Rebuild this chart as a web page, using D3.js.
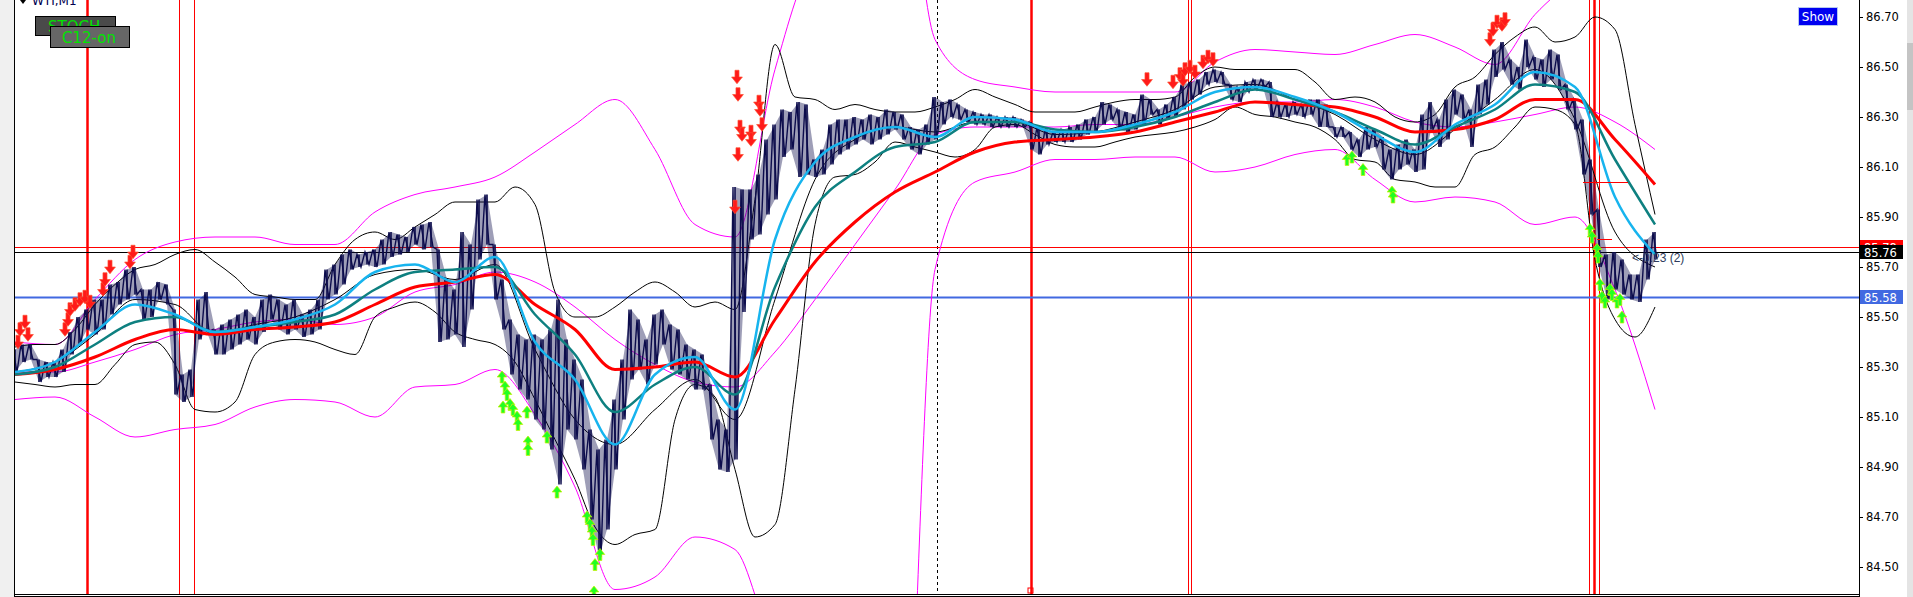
<!DOCTYPE html>
<html>
<head>
<meta charset="utf-8">
<script src="https://cdn.jsdelivr.net/npm/d3@7"></script>
<style>
body{margin:0;background:#fff;overflow:hidden}
svg{display:block}
</style>
</head>
<body>
<svg id="chart"></svg>
<script>
// price samples: one every 4 bars (high / low of the slice)
var priceHigh = [
85.37,85.39,85.39,85.33,85.32,85.32,85.37,85.44,85.50,85.53,
85.57,85.57,85.63,85.64,85.69,85.70,85.61,85.61,85.64,85.63,
85.53,85.27,85.29,85.57,85.60,85.45,85.47,85.49,85.51,85.53,
85.50,85.57,85.59,85.57,85.55,85.57,85.51,85.53,85.57,85.69,
85.71,85.75,85.77,85.75,85.76,85.77,85.81,85.84,85.83,85.82,
85.86,85.87,85.88,85.77,85.65,85.61,85.84,85.79,85.97,85.99,
85.79,85.65,85.49,85.43,85.41,85.43,85.41,85.45,85.57,85.41,
85.33,85.25,85.05,84.97,85.01,85.17,85.33,85.53,85.49,85.41,
85.51,85.53,85.47,85.45,85.39,85.37,85.35,85.23,85.09,85.05,
86.02,86.01,86.01,86.07,86.21,86.27,86.33,86.32,86.36,86.35,
86.13,86.17,86.27,86.29,86.29,86.30,86.29,86.31,86.30,86.33,
86.32,86.31,86.26,86.25,86.27,86.38,86.36,86.37,86.35,86.33,
86.32,86.31,86.31,86.30,86.30,86.30,86.29,86.28,86.26,86.25,
86.24,86.25,86.26,86.27,86.29,86.30,86.36,86.35,86.33,86.32,
86.31,86.39,86.37,86.33,86.35,86.38,86.43,86.44,86.45,86.48,
86.49,86.48,86.43,86.42,86.44,86.45,86.45,86.44,86.36,86.35,
86.36,86.35,86.37,86.37,86.35,86.26,86.26,86.24,86.21,86.26,
86.25,86.22,86.17,86.19,86.21,86.17,86.31,86.36,86.29,86.37,
86.41,86.39,86.33,86.43,86.45,86.57,86.60,86.53,86.50,86.61,
86.54,86.53,86.57,86.55,86.43,86.37,86.29,86.13,85.93,85.75,
85.76,85.73,85.67,85.67,85.81,85.84];
var priceLow = [
85.28,85.32,85.33,85.24,85.26,85.26,85.28,85.35,85.39,85.45,
85.43,85.45,85.51,85.55,85.57,85.59,85.49,85.50,85.57,85.55,
85.19,85.16,85.18,85.41,85.44,85.35,85.35,85.37,85.39,85.41,
85.39,85.44,85.49,85.45,85.43,85.45,85.42,85.43,85.45,85.57,
85.59,85.63,85.69,85.70,85.71,85.70,85.71,85.74,85.75,85.76,
85.79,85.77,85.78,85.40,85.41,85.43,85.38,85.53,85.73,85.79,
85.57,85.45,85.27,85.21,85.17,85.09,85.05,84.97,84.83,85.05,
85.01,84.89,84.69,84.54,84.65,84.89,85.09,85.25,85.29,85.23,
85.31,85.39,85.29,85.27,85.25,85.21,85.21,85.01,84.89,84.88,
84.93,85.52,85.81,85.83,85.91,85.97,86.14,86.17,86.06,86.07,
86.06,86.07,86.11,86.15,86.17,86.19,86.21,86.19,86.21,86.23,
86.25,86.21,86.17,86.15,86.19,86.21,86.27,86.30,86.29,86.28,
86.27,86.27,86.26,86.26,86.26,86.26,86.26,86.17,86.15,86.19,
86.20,86.20,86.20,86.21,86.23,86.24,86.27,86.29,86.25,86.24,
86.25,86.27,86.31,86.27,86.29,86.30,86.33,86.37,86.39,86.43,
86.44,86.43,86.37,86.36,86.40,86.41,86.42,86.30,86.30,86.30,
86.31,86.30,86.31,86.26,86.26,86.22,86.22,86.17,86.14,86.17,
86.18,86.09,86.05,86.09,86.11,86.08,86.09,86.25,86.18,86.21,
86.31,86.29,86.18,86.31,86.35,86.46,86.49,86.43,86.41,86.50,
86.45,86.42,86.45,86.41,86.33,86.25,86.07,85.91,85.70,85.57,
85.61,85.59,85.57,85.56,85.65,85.73];

// moving averages and envelope bands: one value every 20 bars
var maFast = [85.28,85.32,85.44,85.55,85.51,85.44,85.46,85.49,85.55,85.68,85.71,85.64,85.74,85.40,85.25,84.99,85.27,85.34,85.13,85.81,86.12,86.22,86.26,86.22,86.30,86.29,86.24,86.24,86.27,86.32,86.40,86.42,86.38,86.32,86.23,86.16,86.27,86.35,86.48,86.42,85.98,85.75];
var maMid = [85.27,85.30,85.39,85.48,85.50,85.44,85.46,85.48,85.51,85.61,85.68,85.69,85.70,85.51,85.35,85.12,85.23,85.30,85.19,85.62,85.94,86.08,86.18,86.20,86.28,86.28,86.25,86.24,86.26,86.30,86.36,86.41,86.37,86.32,86.25,86.19,86.26,86.33,86.43,86.40,86.13,85.87];
var maSlow = [85.27,85.29,85.34,85.41,85.45,85.43,85.45,85.46,85.48,85.55,85.62,85.64,85.67,85.55,85.45,85.29,85.30,85.32,85.26,85.49,85.72,85.88,86.00,86.08,86.16,86.20,86.21,86.22,86.24,86.28,86.32,86.36,86.35,86.34,86.30,86.24,86.25,86.29,86.37,86.37,86.21,86.03];
var bbMiddle = [85.28,85.32,85.43,85.57,85.55,85.43,85.47,85.50,85.57,85.67,85.69,85.65,85.71,85.37,85.09,84.99,85.13,85.25,85.09,85.57,86.05,86.21,86.26,86.24,86.28,86.28,86.23,86.24,86.28,86.33,86.42,86.43,86.37,86.31,86.21,86.15,86.25,86.37,86.49,86.29,85.84,85.70];
var envUpper = [85.40,85.39,85.57,85.73,85.80,85.82,85.82,85.79,85.79,85.92,85.99,86.02,86.06,86.16,86.27,86.37,86.17,85.87,85.82,86.49,86.93,87.01,87.57,86.61,86.45,86.42,86.40,86.40,86.40,86.40,86.52,86.57,86.56,86.55,86.59,86.63,86.58,86.51,86.71,86.85,86.95,87.01];
var envMiddle = [85.28,85.28,85.32,85.37,85.43,85.45,85.48,85.49,85.47,85.50,85.60,85.63,85.68,85.64,85.54,85.41,85.31,85.24,85.22,85.36,85.57,85.79,86.01,86.23,86.26,86.26,86.26,86.27,86.27,86.30,86.34,86.36,86.36,86.37,86.34,86.28,86.26,86.28,86.31,86.34,86.28,86.17];
var envLower = [85.17,85.18,85.10,85.02,85.05,85.07,85.14,85.17,85.16,85.10,85.22,85.23,85.29,85.11,84.82,84.41,84.46,84.62,84.57,84.21,84.17,84.17,82.77,85.69,86.04,86.08,86.13,86.13,86.14,86.14,86.08,86.10,86.15,86.17,86.05,85.96,85.98,85.96,85.87,85.90,85.61,85.13];

// bollinger bands: one value every 10 bars
var bbUpper = [
85.38,85.39,85.39,85.45,85.55,85.63,85.69,85.71,85.75,85.77,
85.72,85.66,85.59,85.58,85.57,85.57,85.71,85.81,85.84,85.81,
85.86,85.91,85.96,85.96,85.96,86.02,85.95,85.60,85.50,85.50,
85.54,85.60,85.64,85.60,85.54,85.56,85.53,85.97,86.59,86.38,
86.37,86.33,86.35,86.33,86.32,86.32,86.34,86.37,86.41,86.38,
86.35,86.32,86.32,86.32,86.34,86.36,86.37,86.37,86.38,86.46,
86.50,86.49,86.49,86.49,86.49,86.44,86.37,86.38,86.36,86.30,
86.28,86.31,86.42,86.46,86.55,86.62,86.66,86.60,86.62,86.70,
86.65,86.27,85.91];
var bbLower = [
85.24,85.23,85.22,85.23,85.23,85.31,85.39,85.40,85.31,85.13,
85.12,85.16,85.35,85.40,85.41,85.40,85.37,85.35,85.50,85.54,
85.56,85.52,85.44,85.41,85.39,85.32,85.17,85.01,84.85,84.66,
84.59,84.63,84.65,85.09,85.23,85.18,84.89,84.62,84.67,85.21,
85.87,86.06,86.07,86.12,86.20,86.18,86.16,86.14,86.17,86.26,
86.27,86.23,86.19,86.18,86.18,86.20,86.22,86.23,86.24,86.26,
86.29,86.34,86.31,86.30,86.28,86.26,86.21,86.13,86.12,86.05,
86.04,86.02,86.02,86.15,86.18,86.26,86.34,86.33,86.27,85.73,
85.49,85.42,85.54];

// signal arrows [bar, price]
var sellSignals = [[2.5,85.45],[5,85.48],[6.5,85.43],[1.5,85.40],[25,85.45],[26.5,85.49],[27.5,85.53],[30,85.55],[32.5,85.57],[35,85.58],[37.5,85.56],[44,85.61],[45,85.65],[47.5,85.70],[57.5,85.72],[59,85.76],
  [360,85.94],[361,86.46],[361.5,86.39],[361.5,86.15],[362.5,86.26],[363.5,86.23],[368,86.24],[368,86.21],[372,86.36],[372.5,86.33],[373.5,86.27],
  [566,86.45],[579,86.44],[582.5,86.47],[584,86.45],[585,86.49],[587.5,86.50],[590,86.48],[594,86.52],[596.5,86.54],[599,86.53],
  [737.5,86.61],[739,86.65],[741,86.68],[743.5,86.67],[745,86.69]];
var buySignals = [[243.5,85.26],[244,85.14],[245,85.22],[246,85.19],[247.5,85.15],[249,85.13],[251,85.10],[251.5,85.07],[256,85.12],[256.5,85.00],[256.5,84.97],[266,85.02],[271,84.80],[286,84.70],[287.5,84.67],[288.5,84.64],[289,84.61],[290,84.51],[292.5,84.55],[289.5,84.40],
  [666,86.13],[668.5,86.14],[674,86.09],[688.5,86.00],[689,85.98],
  [787.5,85.85],[788.5,85.82],[791,85.77],[791.5,85.74],[792.5,85.63],[793.5,85.58],[795,85.56],[797.5,85.61],[798.5,85.59],[801,85.56],[802.5,85.57],[803.5,85.50]];

// vertical time markers (bars) and price levels
var markerBars = [36, 82, 89.5, 508, 586.5, 588, 787, 789.5, 792];
var thickMarkers = [36, 508, 789.5];
var cursorBar = 461;
var levelLines = [{price:85.78, label:"85.78", color:"#ff0000"},
                  {price:85.76, label:"85.76", color:"#000000"},
                  {price:85.58, label:"85.58", color:"#4169e1"}];
var shortLevels = [[784, 806.5, 86.04], [791, 798.5, 85.81]];
var yTicks = [84.50,84.70,84.90,85.10,85.30,85.50,85.70,85.90,86.10,86.30,86.50,86.70];
var totalBars = 820;

var W = 1913, H = 597;
var plotLeft = 14, plotRight = 1859, plotBottom = 594;

var svg = d3.select("#chart").attr("width", W).attr("height", H)
  .style("font-family", "'DejaVu Sans', Verdana, sans-serif");

svg.append("rect").attr("width", W).attr("height", H).attr("fill", "#fff");

var x = d3.scaleLinear().domain([0, totalBars]).range([15, 1655]);
var y = d3.scaleLinear().domain([84.50, 86.70]).range([567, 17]);

svg.append("defs").append("clipPath").attr("id", "plot")
  .append("rect").attr("x", plotLeft + 1).attr("y", 0)
  .attr("width", plotRight - plotLeft - 1).attr("height", plotBottom);

var plot = svg.append("g").attr("clip-path", "url(#plot)");

// vertical markers
plot.selectAll("line.marker").data(markerBars).join("line")
  .attr("class", "marker")
  .attr("x1", d => Math.round(x(d)) + 0.5).attr("x2", d => Math.round(x(d)) + 0.5)
  .attr("y1", 0).attr("y2", plotBottom)
  .attr("stroke", "#ff0000")
  .attr("stroke-width", d => thickMarkers.indexOf(d) >= 0 ? 2.5 : 1);

plot.append("rect")
  .attr("x", Math.round(x(508)) - 3).attr("y", plotBottom - 6).attr("width", 5).attr("height", 5)
  .attr("fill", "none").attr("stroke", "#ff0000");

plot.append("line")
  .attr("x1", Math.round(x(cursorBar)) + 0.5).attr("x2", Math.round(x(cursorBar)) + 0.5)
  .attr("y1", 0).attr("y2", plotBottom)
  .attr("stroke", "#000").attr("stroke-dasharray", "3,3");

// horizontal price levels
plot.selectAll("line.level").data(levelLines).join("line")
  .attr("class", "level")
  .attr("x1", plotLeft).attr("x2", plotRight)
  .attr("y1", d => Math.round(y(d.price)) + 0.5).attr("y2", d => Math.round(y(d.price)) + 0.5)
  .attr("stroke", d => d.color)
  .attr("stroke-width", d => d.color === "#4169e1" ? 2 : 1);

var smoothStep = 20, bbStep = 10, priceStep = 4;

function bandLine(step) {
  return d3.line()
    .x((d, i) => x(i * step))
    .y(d => y(d))
    .curve(d3.curveMonotoneX);
}

// envelopes (magenta)
[envUpper, envMiddle, envLower].forEach(function(s) {
  plot.append("path").attr("d", bandLine(smoothStep)(s))
    .attr("fill", "none").attr("stroke", "#ff00ff").attr("stroke-width", 1);
});

// bollinger (black)
[bbUpper, bbLower].forEach(function(s) {
  plot.append("path").attr("d", bandLine(bbStep)(s))
    .attr("fill", "none").attr("stroke", "#000").attr("stroke-width", 1);
});
plot.append("path").attr("d", bandLine(smoothStep)(bbMiddle))
  .attr("fill", "none").attr("stroke", "#000").attr("stroke-width", 1);

// price: light range ribbon, bars and a sawtooth through high and low
var priceColor = "#0c0c4c";
var priceArea = d3.area()
  .x((d, i) => x(i * priceStep))
  .y0((d, i) => y(priceLow[i]))
  .y1(d => y(d));
plot.append("path").attr("d", priceArea(priceHigh))
  .attr("fill", priceColor).attr("fill-opacity", 0.4);
var pricePts = [];
priceHigh.forEach(function(h, i) {
  var xi = x(i * priceStep);
  pricePts.push([xi - 2, y(h)]);
  pricePts.push([xi + 2, y(priceLow[i])]);
});
plot.append("path").attr("d", d3.line()(pricePts))
  .attr("fill", "none").attr("stroke", priceColor).attr("stroke-width", 1.4);
plot.selectAll("line.bar").data(priceHigh).join("line")
  .attr("class", "bar")
  .attr("x1", (d, i) => x(i * priceStep)).attr("x2", (d, i) => x(i * priceStep))
  .attr("y1", d => y(d)).attr("y2", (d, i) => y(priceLow[i]))
  .attr("stroke", priceColor).attr("stroke-width", 1.6);

// moving averages
plot.append("path").attr("d", bandLine(smoothStep)(maSlow))
  .attr("fill", "none").attr("stroke", "#ff0000").attr("stroke-width", 3);
plot.append("path").attr("d", bandLine(smoothStep)(maMid))
  .attr("fill", "none").attr("stroke", "#0e8080").attr("stroke-width", 2.5);
plot.append("path").attr("d", bandLine(smoothStep)(maFast))
  .attr("fill", "none").attr("stroke", "#17b4ee").attr("stroke-width", 2.5);

// short red level ticks near the end
plot.selectAll("line.short").data(shortLevels).join("line")
  .attr("class", "short")
  .attr("x1", d => x(d[0])).attr("x2", d => x(d[1]))
  .attr("y1", d => Math.round(y(d[2])) + 0.5).attr("y2", d => Math.round(y(d[2])) + 0.5)
  .attr("stroke", "#ff0000").attr("stroke-width", 1);

// signal arrows
var downArrow = "M-1.5,-5L1.5,-5L1.5,0L4,0L0,5L-4,0L-1.5,0Z";
var upArrow = "M-1.5,5L1.5,5L1.5,0L4,0L0,-5L-4,0L-1.5,0Z";
plot.selectAll("path.sell").data(sellSignals).join("path")
  .attr("class", "sell").attr("d", downArrow)
  .attr("transform", d => `translate(${x(d[0])},${y(d[1])}) scale(1.35)`)
  .attr("fill", "#ff1a1a").attr("stroke", "#ff5030").attr("stroke-width", 0.5);
plot.selectAll("path.buy").data(buySignals).join("path")
  .attr("class", "buy").attr("d", upArrow)
  .attr("transform", d => `translate(${x(d[0])},${y(d[1])}) scale(1.2)`)
  .attr("fill", "#22ff22").attr("stroke", "#c8f000").attr("stroke-width", 0.6);

plot.append("text").attr("x", 1632).attr("y", 262)
  .style("font-family", "'Liberation Sans', Arial, sans-serif")
  .style("font-size", "12px").attr("fill", "#2e3b5c")
  .text("<-0.23 (2)");

// frame
svg.append("rect").attr("x", 0).attr("y", 0).attr("width", plotLeft).attr("height", H).attr("fill", "#f0f0f0");
svg.append("line").attr("x1", plotLeft + 0.5).attr("x2", plotLeft + 0.5).attr("y1", 0).attr("y2", H).attr("stroke", "#000");
svg.append("line").attr("x1", plotLeft).attr("x2", plotRight + 1).attr("y1", plotBottom + 0.5).attr("y2", plotBottom + 0.5).attr("stroke", "#000");
svg.append("line").attr("x1", plotLeft).attr("x2", plotRight + 1).attr("y1", plotBottom + 2.5).attr("y2", plotBottom + 2.5).attr("stroke", "#000");
svg.append("line").attr("x1", plotRight + 0.5).attr("x2", plotRight + 0.5).attr("y1", 0).attr("y2", plotBottom + 3).attr("stroke", "#000");
svg.append("rect").attr("x", 1907).attr("y", 0).attr("width", 6).attr("height", H).attr("fill", "#e4e4e4");
svg.append("rect").attr("x", 1907).attr("y", 43).attr("width", 6).attr("height", 67).attr("fill", "#c4c4c4");

// price axis
var axis = svg.append("g").attr("transform", `translate(${plotRight},0)`)
  .call(d3.axisRight(y).tickValues(yTicks).tickFormat(d3.format(".2f")).tickSize(4).tickPadding(3));
axis.select(".domain").remove();
axis.selectAll("line").attr("stroke", "#000");
axis.selectAll("text").attr("fill", "#000")
  .style("font-family", "'DejaVu Sans', Verdana, sans-serif").style("font-size", "11.5px");

// level price boxes
var boxes = svg.selectAll("g.pbox").data(levelLines).join("g").attr("class", "pbox")
  .attr("transform", d => `translate(${plotRight + 1},${Math.round(y(d.price)) - 7})`);
boxes.append("rect").attr("width", 43).attr("height", 14).attr("fill", d => d.color);
boxes.append("text").attr("x", 4).attr("y", 11.5).attr("fill", "#fff")
  .style("font-size", "11.5px").text(d => d.label);

// header texts
svg.append("path").attr("d", "M20,0L26,0L23,4Z").attr("fill", "#000");
svg.append("text").attr("x", 32).attr("y", 5).attr("fill", "#000050")
  .style("font-size", "12px").text("WTI,M1");

var stoch = svg.append("g");
stoch.append("rect").attr("x", 35.5).attr("y", 16.5).attr("width", 80).attr("height", 19)
  .attr("fill", "#4a4a4a").attr("stroke", "#000");
stoch.append("text").attr("x", 48).attr("y", 32).attr("fill", "#00e400")
  .style("font-size", "15px").text("STOCH");
var c12 = svg.append("g");
c12.append("rect").attr("x", 50.5).attr("y", 26.5).attr("width", 79).attr("height", 21)
  .attr("fill", "#666").attr("stroke", "#000");
c12.append("text").attr("x", 62).attr("y", 43).attr("fill", "#00e400")
  .style("font-size", "15px").text("C12-on");

var show = svg.append("g");
show.append("rect").attr("x", 1798.5).attr("y", 7.5).attr("width", 39).attr("height", 18)
  .attr("fill", "#0000f0").attr("stroke", "#b8c8f0");
show.append("text").attr("x", 1818).attr("y", 21).attr("text-anchor", "middle")
  .attr("fill", "#fff").style("font-size", "12px").text("Show");
</script>
</body>
</html>
